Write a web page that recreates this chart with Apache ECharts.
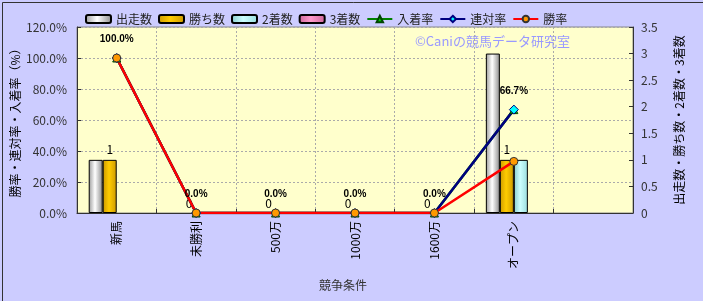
<!DOCTYPE html>
<html><head><meta charset="utf-8">
<script src="https://cdn.jsdelivr.net/npm/echarts@6/dist/echarts.min.js"></script>
<style>html,body{margin:0;padding:0;background:#CCCCFF;}#c{width:703px;height:301px;box-sizing:border-box;}</style>
</head><body><div id="c"></div>
<script>
const categories = ['新馬','未勝利','500万','1000万','1600万','オープン',''];
const starts  = [1,0,0,0,0,3,null];
const wins    = [1,0,0,0,0,1,null];
const seconds = [0,0,0,0,0,1,null];
const thirds  = [0,0,0,0,0,0,null];
const placeRate = [100,0,0,0,0,66.7,null];
const rentaiRate = [100,0,0,0,0,66.7,null];
const winRate = [100,0,0,0,0,33.3,null];
const leftTicks = {min:0,max:120,interval:20};
const rightTicks = {min:0,max:3.5,interval:0.5};

const FONT = '"Noto Sans CJK JP", sans-serif';
function grad(a,b,c){return {type:'linear',x:0,y:0,x2:1,y2:0,colorStops:[{offset:0,color:a},{offset:0.45,color:b},{offset:1,color:c}]};}
function barData(arr){return arr.map(v => v === 0 ? {value:0,itemStyle:{borderWidth:0}} : v);}
const chart = echarts.init(document.getElementById('c'));
const barBase = {type:'bar',yAxisIndex:1,barWidth:14,barGap:'0%'};
chart.setOption({
  animation:false,
  backgroundColor:'#CCCCFF',
  textStyle:{fontFamily:FONT},
  graphic:[
    {type:'rect',left:0,top:0,shape:{width:702,height:300},style:{fill:'none',stroke:'#333',lineWidth:1},silent:true},
    {type:'text',left:415,top:35,style:{text:'©Caniの競馬データ研究室',fill:'#9999FF',font:'13px '+FONT},z:0}
  ],
  legend:{left:80,top:8,itemWidth:25,itemHeight:8,itemGap:6,textStyle:{fontSize:12,color:'#222',fontFamily:FONT},
    data:[{name:'出走数',icon:'roundRect'},{name:'勝ち数',icon:'roundRect'},{name:'2着数',icon:'roundRect'},{name:'3着数',icon:'roundRect'},'入着率','連対率','勝率']},
  grid:{left:77,right:70,top:27,bottom:88,outerBoundsMode:'none',containLabel:false,show:true,backgroundColor:'#FFFFCC',borderColor:'#888',borderWidth:1},
  xAxis:{type:'category',data:categories,boundaryGap:true,
    name:'競争条件',nameLocation:'middle',nameGap:66,nameMoveOverlap:false,nameTextStyle:{fontSize:12,color:'#333',padding:[0,24,0,0]},
    axisLine:{lineStyle:{color:'#333'}},axisTick:{show:true,inside:true,length:4,lineStyle:{color:'#333'}},
    axisLabel:{rotate:90,fontSize:12,color:'#000',margin:8,interval:0},
    splitLine:{show:true,interval:0,lineStyle:{color:'#AAAAAA',type:[2,2]}}},
  yAxis:[
    {type:'value',min:leftTicks.min,max:leftTicks.max,interval:leftTicks.interval,position:'left',
     name:'勝率・連対率・入着率（%）',nameLocation:'middle',nameGap:56,nameMoveOverlap:false,nameRotate:90,nameTextStyle:{fontSize:12,color:'#000'},
     axisLine:{show:true,lineStyle:{color:'#333'}},axisTick:{show:true,inside:true,length:4,lineStyle:{color:'#333'}},
     axisLabel:{fontSize:12,color:'#333',margin:10,formatter:v=>v.toFixed(1)+'%'},
     splitLine:{show:true,lineStyle:{color:'#AAAAAA',type:[2,2]}}},
    {type:'value',min:rightTicks.min,max:rightTicks.max,interval:rightTicks.interval,position:'right',
     name:'出走数・勝ち数・2着数・3着数',nameLocation:'middle',nameGap:40,nameMoveOverlap:false,nameRotate:90,nameTextStyle:{fontSize:12,color:'#000'},
     axisLine:{show:true,lineStyle:{color:'#333'}},axisTick:{show:true,inside:true,length:4,lineStyle:{color:'#333'}},
     axisLabel:{fontSize:12,color:'#333',margin:8},splitLine:{show:false}}
  ],
  series:[
    Object.assign({},barBase,{name:'出走数',data:barData(starts),itemStyle:{borderColor:'#000',borderWidth:1,color:grad('#9a9a9a','#ffffff','#8a8a8a')}}),
    Object.assign({},barBase,{name:'勝ち数',data:barData(wins),itemStyle:{borderColor:'#000',borderWidth:1,color:grad('#CC9900','#FFCC00','#CC9900')},
      label:{show:true,position:'top',distance:4,fontSize:12,color:'#000'}}),
    Object.assign({},barBase,{name:'2着数',data:barData(seconds),itemStyle:{borderColor:'#000',borderWidth:1,color:grad('#88CCCC','#CCFFFF','#99DDDD')}}),
    Object.assign({},barBase,{name:'3着数',data:barData(thirds),itemStyle:{borderColor:'#000',borderWidth:1,color:grad('#CC6699','#FF99CC','#CC6699')}}),
    {name:'入着率',type:'line',yAxisIndex:0,data:placeRate,symbol:'triangle',symbolSize:8,
     lineStyle:{color:'#008000',width:2.5},itemStyle:{color:'#00CC00',borderColor:'#004400',borderWidth:1},
     label:{show:true,position:'top',distance:9,fontSize:10,fontWeight:'bold',color:'#000',fontFamily:'sans-serif',formatter:p=>p.value.toFixed(1)+'%'}},
    {name:'連対率',type:'line',yAxisIndex:0,data:rentaiRate,symbol:'diamond',symbolSize:9,
     lineStyle:{color:'#000080',width:2.5},itemStyle:{color:'#00FFFF',borderColor:'#000080',borderWidth:1}},
    {name:'勝率',type:'line',yAxisIndex:0,data:winRate,symbol:'circle',symbolSize:8,
     lineStyle:{color:'#FF0000',width:2.5},itemStyle:{color:'#FF9900',borderColor:'#333',borderWidth:1}}
  ]
});
</script></body></html>
